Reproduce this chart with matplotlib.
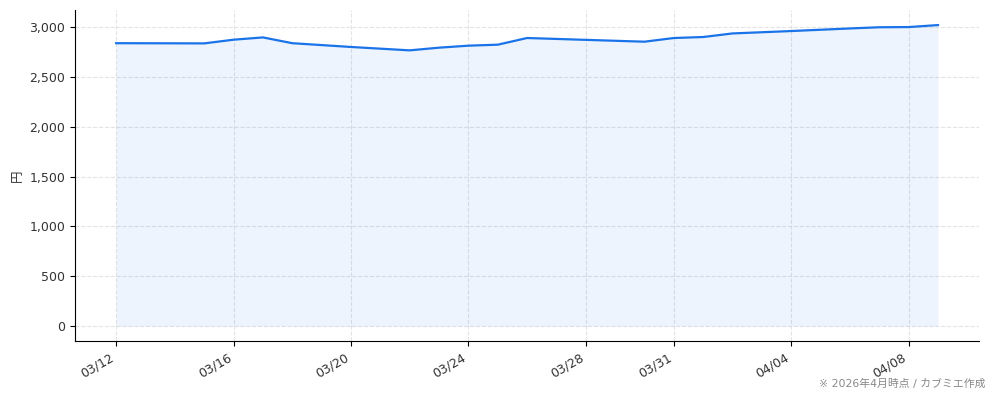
import matplotlib
matplotlib.use("Agg")
import matplotlib.pyplot as plt
import matplotlib.dates as mdates
import matplotlib.ticker as mticker
import pandas as pd

plt.rcParams["font.family"] = ["DejaVu Sans", "Noto Sans CJK JP"]

# 株価の推移 (円)
dates = [
    "2026-03-12", "2026-03-15", "2026-03-16", "2026-03-17", "2026-03-18",
    "2026-03-20", "2026-03-22", "2026-03-23", "2026-03-24", "2026-03-25",
    "2026-03-26", "2026-03-30", "2026-03-31", "2026-04-01", "2026-04-02",
    "2026-04-04", "2026-04-06", "2026-04-07", "2026-04-08", "2026-04-09",
]
prices = [
    2840, 2838, 2875, 2898, 2840,
    2802, 2768, 2795, 2815, 2825,
    2892, 2855, 2892, 2902, 2938,
    2962, 2988, 3000, 3002, 3022,
]
tick_dates = ["2026-03-12", "2026-03-16", "2026-03-20", "2026-03-24",
              "2026-03-28", "2026-03-31", "2026-04-04", "2026-04-08"]

x = pd.to_datetime(dates)

fig = plt.figure(figsize=(9.94, 4.01), dpi=100)
ax = fig.add_axes([0.0755, 0.1496, 0.9095, 0.8254])

ax.plot(x, prices, color="#1a73e8", linewidth=1.6)
ax.fill_between(x, prices, 0, color="#1a73e8", alpha=0.08, linewidth=0)

ax.set_xticks(pd.to_datetime(tick_dates))
ax.xaxis.set_major_formatter(mdates.DateFormatter("%m/%d"))
ax.yaxis.set_major_locator(mticker.MultipleLocator(500))
ax.yaxis.set_major_formatter(mticker.StrMethodFormatter("{x:,.0f}"))
ax.tick_params(labelsize=9, labelcolor="#333333")
for lbl in ax.get_xticklabels():
    lbl.set_rotation(30)
    lbl.set_ha("right")

ax.set_ylabel("円", fontsize=9, color="#333333", family=["Noto Sans CJK JP"])
ax.grid(True, linestyle="--", color="#dddddd", linewidth=0.8, alpha=0.8)
ax.set_axisbelow(True)
ax.spines["top"].set_visible(False)
ax.spines["right"].set_visible(False)

fig.text(0.991, 0.042, "※ 2026年4月時点 / カブミエ作成", ha="right", va="center",
         fontsize=7.8, color="#888888")

fig.savefig("out.png", dpi=100)
